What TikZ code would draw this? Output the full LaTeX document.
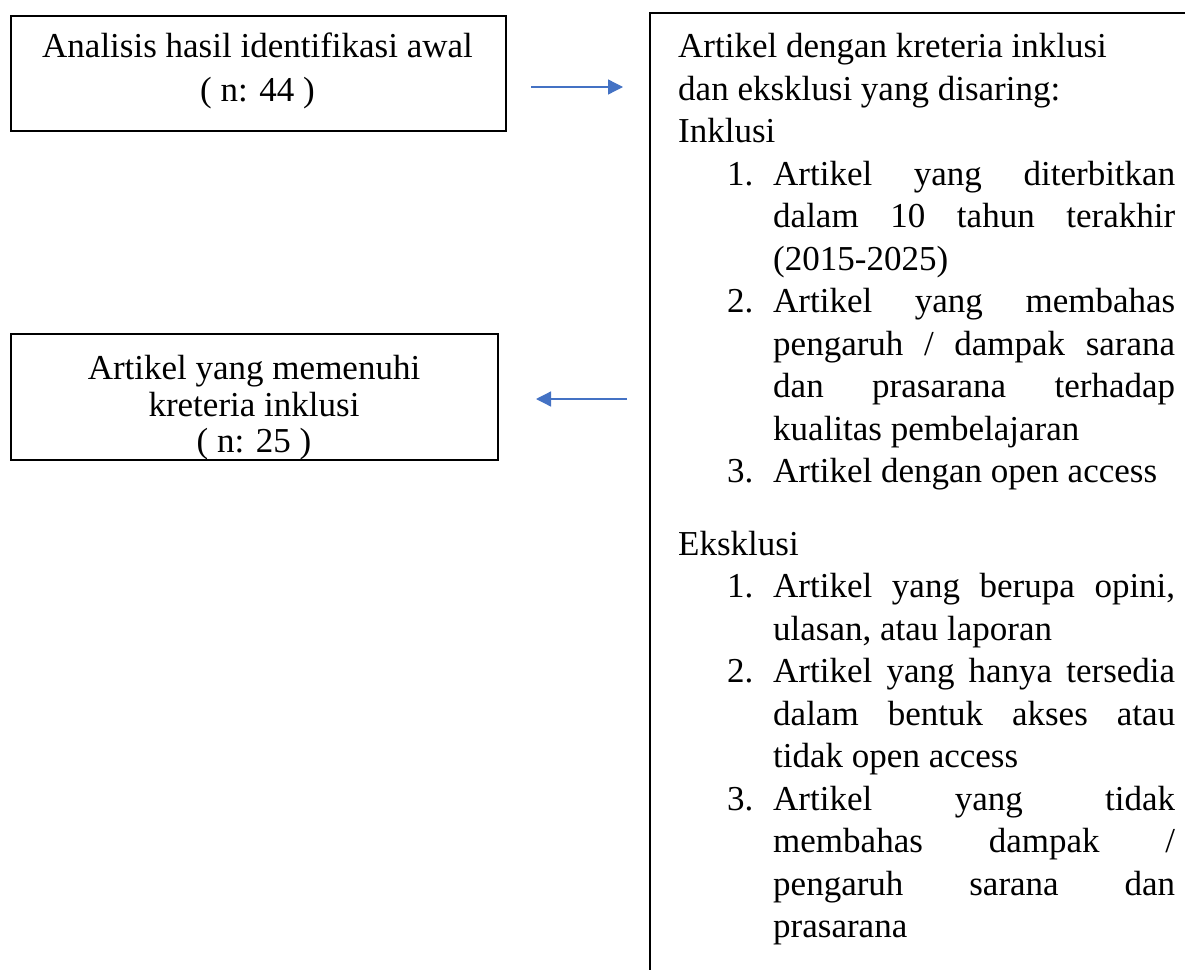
\documentclass[tikz,border=0pt]{standalone}
\usepackage{fontspec}
\setmainfont{Liberation Serif}
\usetikzlibrary{arrows.meta}
\definecolor{arrowblue}{RGB}{68,114,196}
\tikzset{
  frame/.style={draw=black, line width=2pt, inner sep=0pt},
  flow/.style={draw=arrowblue, line width=1.3pt, -{Triangle[length=15pt,width=15pt]}},
  txt/.style={anchor=base west, inner sep=0pt, font=\fontsize{35}{42}\selectfont},
  ctxt/.style={anchor=base, inner sep=0pt, font=\fontsize{35}{42}\selectfont},
}
\newcommand{\jline}[1]{\makebox[402pt][s]{#1}}
\begin{document}
\begin{tikzpicture}[x=1pt,y=-1pt]
\useasboundingbox (0,0) rectangle (1185,969);
% left boxes
\node[frame, anchor=north west, minimum width=495pt, minimum height=115pt] (box1) at (10,15) {};
\node[ctxt] (b1a) at (257.5,57) {Analisis hasil identifikasi awal};
\node[ctxt] (b1b) at (257.5,101) {( n: 44 )};
\node[frame, anchor=north west, minimum width=487pt, minimum height=126pt] (box2) at (10,333) {};
\node[ctxt] (b2a) at (254,379) {Artikel yang memenuhi};
\node[ctxt] (b2b) at (254,416) {kreteria inklusi};
\node[ctxt] (b2c) at (254,452) {( n: 25 )};
% right box (open to the right and bottom)
\node[frame, anchor=north west, minimum width=700pt, minimum height=1100pt] (crit) at (649,12) {};
% arrows
\coordinate (a1s) at (531,87);
\coordinate (a1e) at (623,87);
\draw[flow] (a1s) -- (a1e);
\coordinate (a2s) at (627,399);
\coordinate (a2e) at (536,399);
\draw[flow] (a2s) -- (a2e);
% right box text
\node[txt] (r0) at (678,57) {Artikel dengan kreteria inklusi};
\node[txt] (r1) at (678,100) {dan eksklusi yang disaring:};
\node[txt] (r2) at (678,142) {Inklusi};
\node[txt] (n1) at (727,185) {1.};
\node[txt] (r3) at (773,185) {\jline{Artikel yang diterbitkan}};
\node[txt] (r4) at (773,227) {\jline{dalam 10 tahun terakhir}};
\node[txt] (r5) at (773,270) {(2015-2025)};
\node[txt] (n2) at (727,312) {2.};
\node[txt] (r6) at (773,312) {\jline{Artikel yang membahas}};
\node[txt] (r7) at (773,355) {\jline{pengaruh / dampak sarana}};
\node[txt] (r8) at (773,397) {\jline{dan prasarana terhadap}};
\node[txt] (r9) at (773,440) {kualitas pembelajaran};
\node[txt] (n3) at (727,482) {3.};
\node[txt] (r10) at (773,482) {Artikel dengan open access};
\node[txt] (r11) at (678,555) {Eksklusi};
\node[txt] (m1) at (727,597) {1.};
\node[txt] (r12) at (773,597) {\jline{Artikel yang berupa opini,}};
\node[txt] (r13) at (773,640) {ulasan, atau laporan};
\node[txt] (m2) at (727,682) {2.};
\node[txt] (r14) at (773,682) {\jline{Artikel yang hanya tersedia}};
\node[txt] (r15) at (773,725) {\jline{dalam bentuk akses atau}};
\node[txt] (r16) at (773,767) {tidak open access};
\node[txt] (m3) at (727,810) {3.};
\node[txt] (r17) at (773,810) {\jline{Artikel yang tidak}};
\node[txt] (r18) at (773,852) {\jline{membahas dampak /}};
\node[txt] (r19) at (773,895) {\jline{pengaruh sarana dan}};
\node[txt] (r20) at (773,937) {prasarana};
\end{tikzpicture}
\end{document}
